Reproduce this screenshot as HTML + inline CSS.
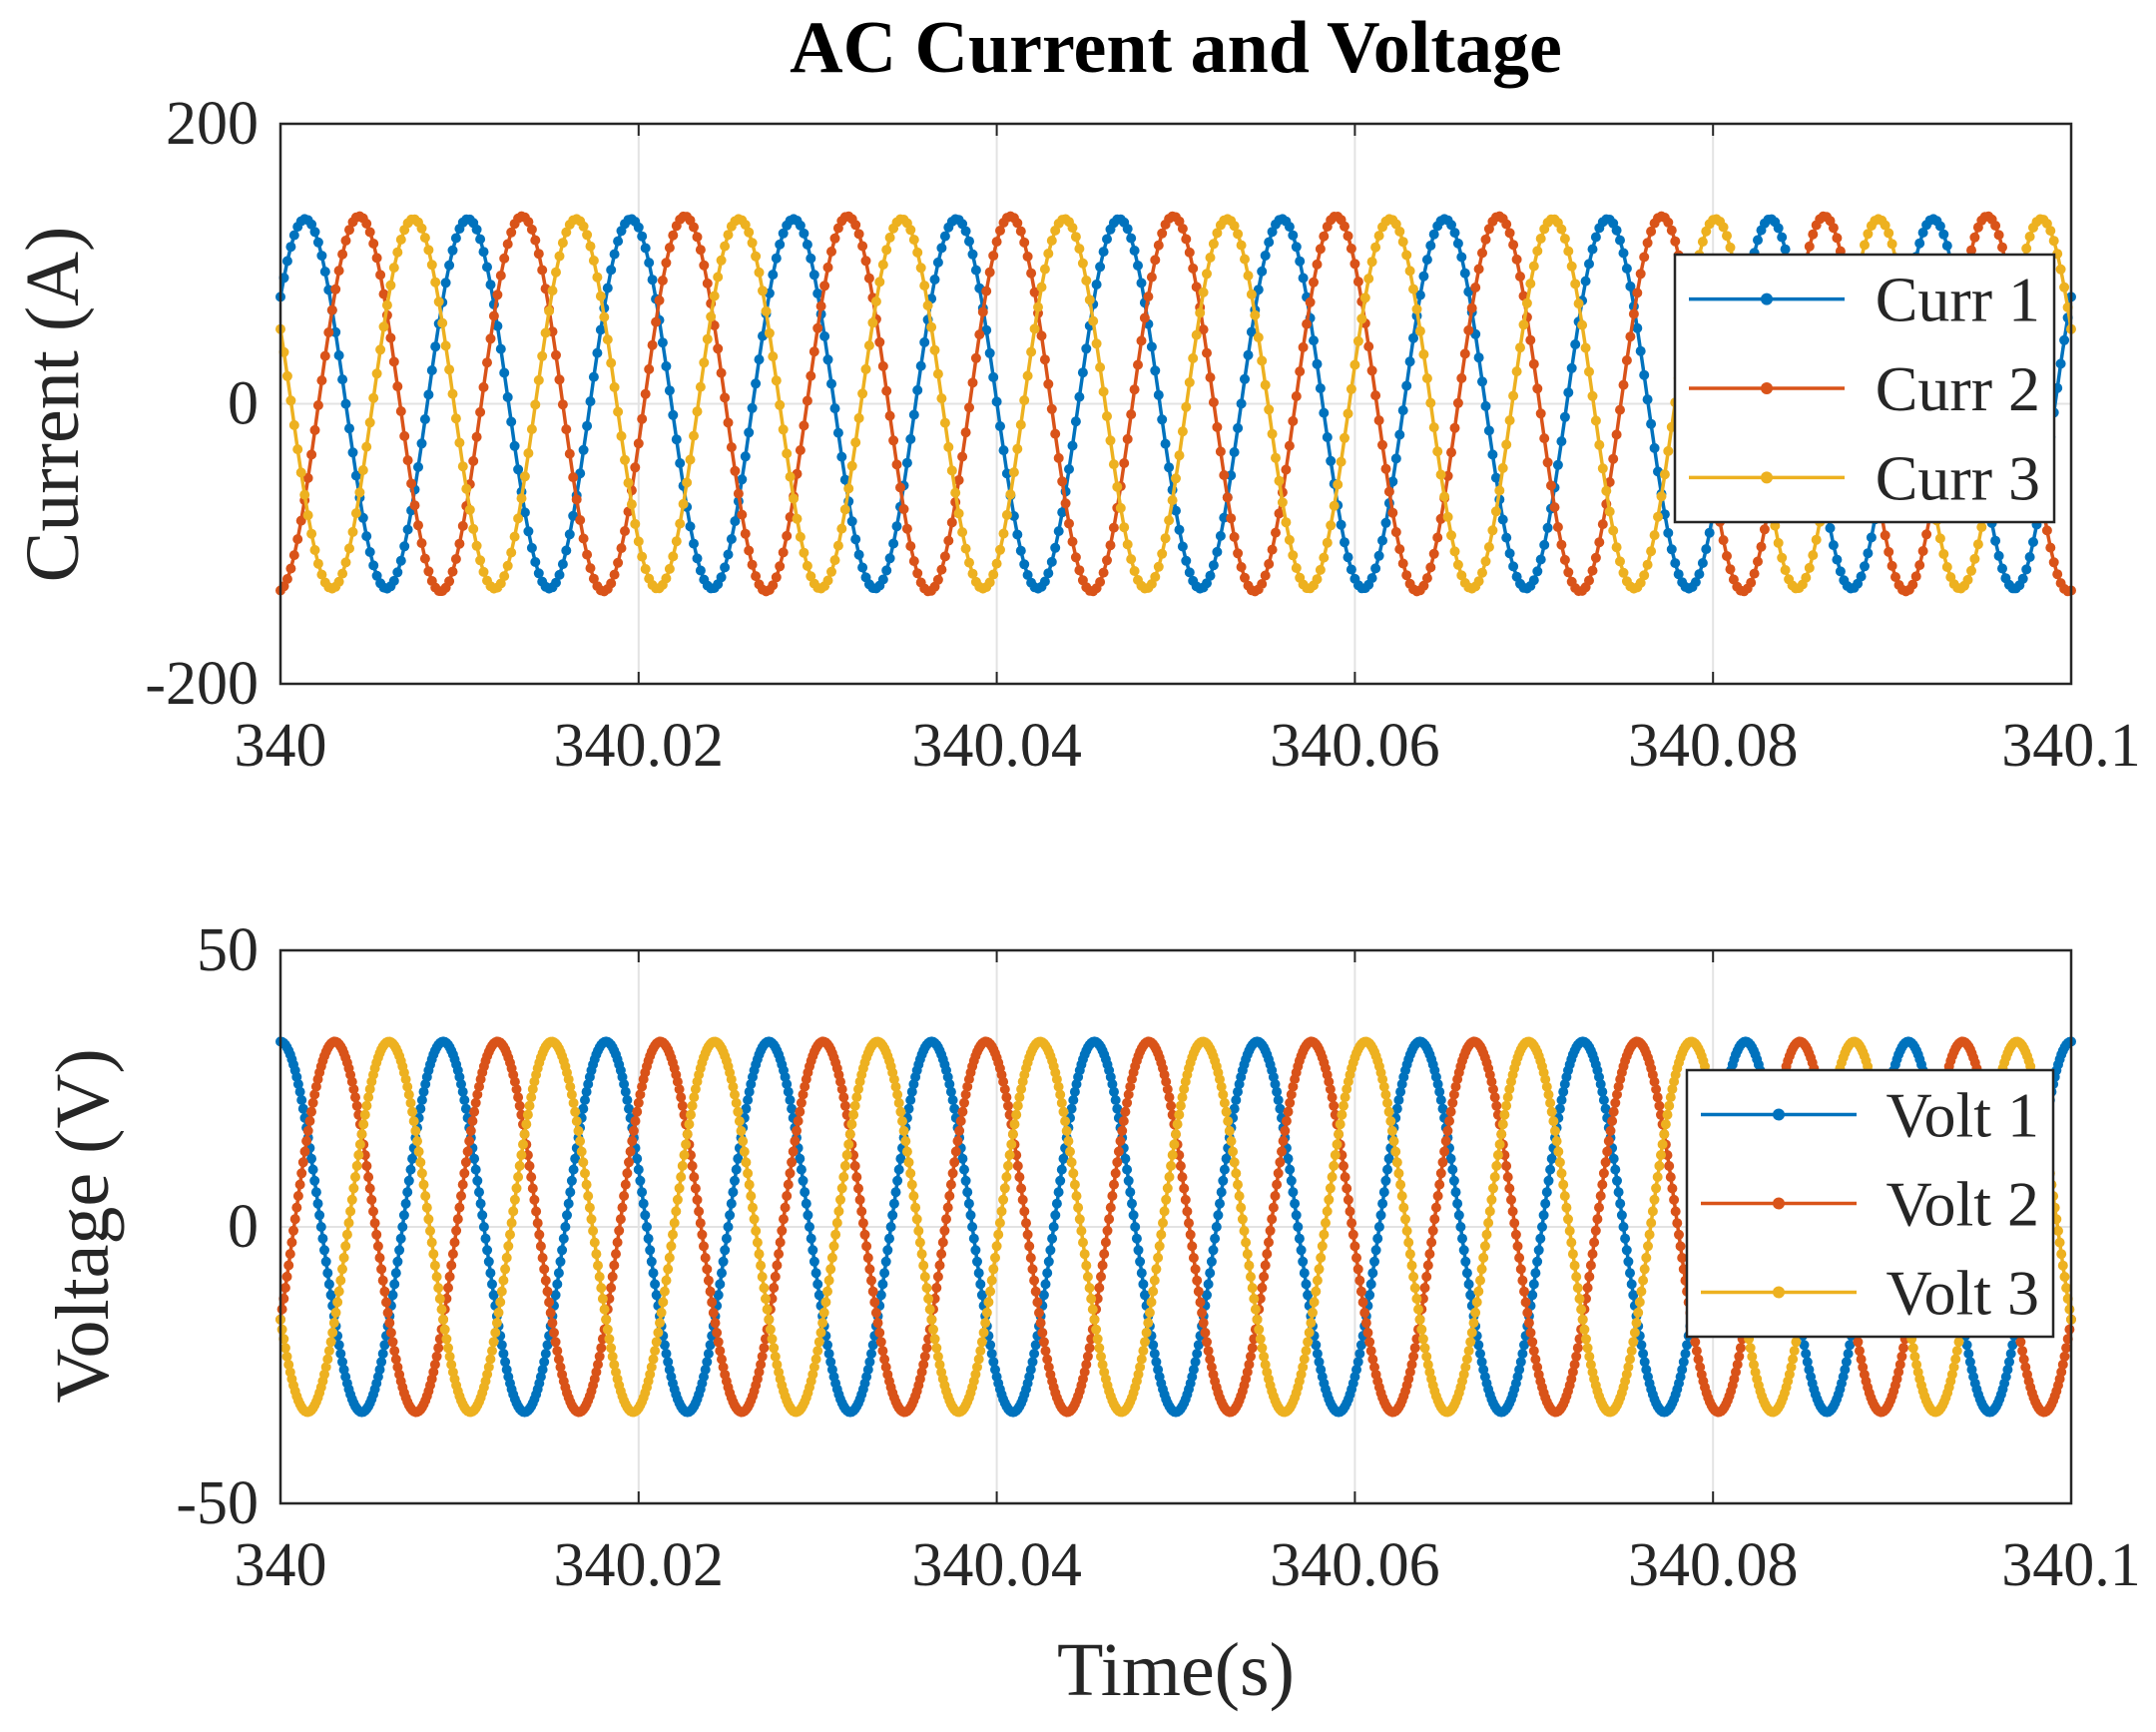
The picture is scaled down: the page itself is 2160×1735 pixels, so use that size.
<!DOCTYPE html>
<html><head><meta charset="utf-8"><style>
html,body{margin:0;padding:0;background:#fff;}
svg text{font-family:"Liberation Serif",serif;fill:#262626;}
</style></head><body>
<svg id="chart" width="2160" height="1730" xmlns="http://www.w3.org/2000/svg">
<rect width="2160" height="1730" fill="#fff"/>
<text x="1178" y="72" font-size="74" font-weight="bold" text-anchor="middle" style="fill:#000">AC Current and Voltage</text>
<g id="top"></g>
<g id="bot"></g>
<text transform="translate(78,405) rotate(-90)" font-size="76" text-anchor="middle">Current (A)</text>
<text transform="translate(108,1228) rotate(-90)" font-size="76" text-anchor="middle">Voltage (V)</text>
<text x="1178" y="1698" font-size="76" text-anchor="middle">Time(s)</text>
</svg>
<script>
// Data: per-series amplitude, frequency, peak time offset
const xTicks=[340,340.02,340.04,340.06,340.08,340.1];
const xTickLabels=["340","340.02","340.04","340.06","340.08","340.1"];
const curTicks=[-200,0,200];
const voltTicks=[-50,0,50];
const curNames=["Curr 1","Curr 2","Curr 3"];
const voltNames=["Volt 1","Volt 2","Volt 3"];
const curAmp=[132,134,132];
const voltAmp=[33.5,33.5,33.5];
const freqHz=[110,110,110];
const curPeak=[0.00138,0.00440,0.00742];
const voltPeak=[0.0,0.00303,0.00606];
const colors=["#0072BD","#D95319","#EDB120"];
const NS="http://www.w3.org/2000/svg";
function mk(p,tag,a){const e=document.createElementNS(NS,tag);for(const k in a)e.setAttribute(k,a[k]);p.appendChild(e);return e;}
function plot(g,y0,y1,ymin,ymax,ticks,names,amp,peak,npts,leg){
 const x0=281,x1=2075;
 const X=t=>x0+(t-340)/0.1*(x1-x0);
 const Y=v=>y1-(v-ymin)/(ymax-ymin)*(y1-y0);
 xTicks.forEach((t,i)=>{
  if(i>0&&i<xTicks.length-1){const l=mk(g,"line",{x1:X(t),x2:X(t),y1:y0,y2:y1,stroke:"#e3e3e3","stroke-width":2});
  
  }
  const tl=mk(g,"text",{x:X(t),y:y1+82,"font-size":62,"text-anchor":"middle"});tl.textContent=xTickLabels[i];
  
  
  mk(g,"line",{x1:X(t),x2:X(t),y1:y1,y2:y1-12,stroke:"#262626","stroke-width":2});
  mk(g,"line",{x1:X(t),x2:X(t),y1:y0,y2:y0+12,stroke:"#262626","stroke-width":2});
 });
 ticks.forEach(v=>{
  if(v!==ymin&&v!==ymax){const l=mk(g,"line",{x1:x0,x2:x1,y1:Y(v),y2:Y(v),stroke:"#e3e3e3","stroke-width":2});
  
  }
  const tl=mk(g,"text",{x:x0-22,y:Y(v)+20,"font-size":62,"text-anchor":"end"});tl.textContent=String(v);
  
  
 });
 for(let s=0;s<3;s++){
  const sg=mk(g,"g",{});
  
  
  let d="";const pts=[];
  for(let i=0;i<=npts;i++){const t=0.1*i/npts;const v=amp[s]*Math.cos(2*Math.PI*freqHz[s]*(t-peak[s]));
   const px=X(340+t),py=Y(v);d+=(i?"L":"M")+px.toFixed(1)+","+py.toFixed(1);pts.push([px,py]);}
  mk(sg,"path",{d:d,fill:"none",stroke:colors[s],"stroke-width":3.5});
  let dd="";pts.forEach(p=>{dd+="M"+p[0].toFixed(1)+","+p[1].toFixed(1)+"h0";});
  mk(sg,"path",{d:dd,stroke:colors[s],"stroke-width":10,"stroke-linecap":"round",fill:"none"});
 }
 const ax=mk(g,"rect",{x:x0,y:y0,width:x1-x0,height:y1-y0,fill:"none",stroke:"#262626","stroke-width":2.5});
 
 
 const lg=mk(g,"g",{});
 
 
 mk(lg,"rect",{x:leg[0],y:leg[1],width:leg[2],height:leg[3],fill:"#fff",stroke:"#262626","stroke-width":2.5});
 for(let s=0;s<3;s++){
  const cy=leg[1]+leg[3]*(s+0.5)/3;
  const e=mk(lg,"g",{});
  
  
  mk(e,"line",{x1:leg[0]+14,x2:leg[0]+170,y1:cy,y2:cy,stroke:colors[s],"stroke-width":3.5});
  mk(e,"circle",{cx:leg[0]+92,cy:cy,r:6,fill:colors[s]});
  const t=mk(e,"text",{x:leg[0]+leg[2]-14,y:cy+22,"font-size":64,"text-anchor":"end"});t.textContent=names[s];
 }
}
plot(document.getElementById("top"),124,685,-200,200,curTicks,curNames,curAmp,curPeak,520,[1678,255,380,268]);
plot(document.getElementById("bot"),952,1506,-50,50,voltTicks,voltNames,voltAmp,voltPeak,1100,[1690,1072,367,267]);
</script>
</body></html>
